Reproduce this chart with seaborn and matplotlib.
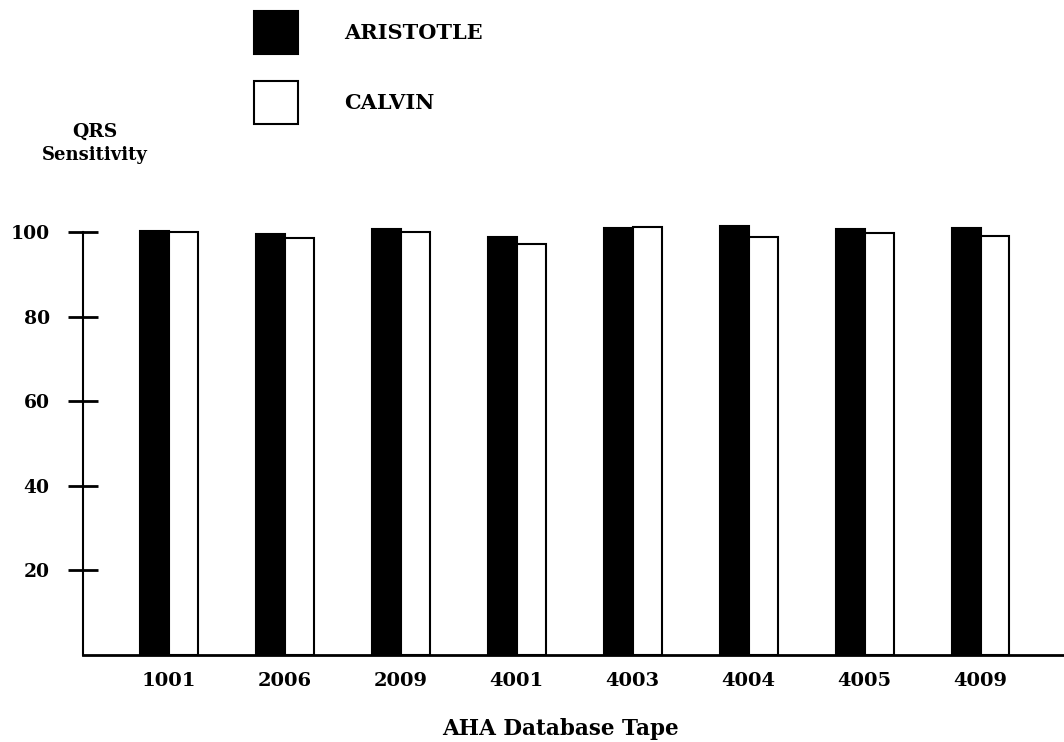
import pandas as pd
import numpy as np
import matplotlib
matplotlib.use("Agg")
import matplotlib.pyplot as plt
import seaborn as sns

# values
tapes = ['1001', '2006', '2009', '4001', '4003', '4004', '4005', '4009']
aristotle = [100.3, 99.5, 100.6, 98.9, 100.9, 101.4, 100.6, 100.9]
calvin = [100.1, 98.7, 99.9, 97.1, 101.3, 98.9, 99.8, 99.1]
yticks = [20, 40, 60, 80, 100]

df = pd.DataFrame({
    'tape': tapes * 2,
    'sensitivity': aristotle + calvin,
    'system': ['ARISTOTLE'] * len(tapes) + ['CALVIN'] * len(tapes),
})

sns.set_style('white')
plt.rcParams['font.family'] = ['DejaVu Serif']
plt.rcParams['font.weight'] = 'bold'
plt.rcParams['text.color'] = 'black'
plt.rcParams['axes.labelcolor'] = 'black'
plt.rcParams['xtick.color'] = 'black'
plt.rcParams['ytick.color'] = 'black'

fig = plt.figure(figsize=(10.64, 7.42), dpi=100)
ax = fig.add_axes([0.078, 0.1173, 0.922, 0.5871])

sns.barplot(data=df, x='tape', y='sensitivity', hue='system',
            palette={'ARISTOTLE': 'black', 'CALVIN': 'white'},
            edgecolor='black', linewidth=1.5, width=0.5, ax=ax)

ax.set_xlim(-0.74, 7.72)
ax.set_ylim(0, 103)
ax.set_yticks(yticks)
ax.set_yticklabels([str(v) for v in yticks], fontsize=13.5, fontweight='bold')
ax.tick_params(axis='y', left=True, direction='inout', length=21, width=2, pad=13.5)
ax.tick_params(axis='x', bottom=False, length=0, pad=12, labelsize=14)
for lab in ax.get_xticklabels():
    lab.set_fontweight('bold')

for s in ['top', 'right']:
    ax.spines[s].set_visible(False)
ax.spines['left'].set_bounds(0, 100)
ax.spines['left'].set_linewidth(1.5)
ax.spines['bottom'].set_linewidth(2)
ax.spines['left'].set_color('black')
ax.spines['bottom'].set_color('black')

ax.set_xlabel('AHA Database Tape', fontsize=15.5, fontweight='bold')
ax.xaxis.set_label_coords(0.487, -0.145)
ax.set_ylabel('')

fig.text(0.0893, 0.822, 'QRS', fontsize=13.5, fontweight='bold', ha='center', va='center')
fig.text(0.0893, 0.7915, 'Sensitivity', fontsize=13, fontweight='bold', ha='center', va='center')

handles, labels = ax.get_legend_handles_labels()
ax.get_legend().remove()
fig.legend(handles, labels, loc='upper left', bbox_to_anchor=(0.2313, 0.9965),
           frameon=False, prop={'size': 15, 'weight': 'bold'},
           handlelength=2.1, handleheight=2.8,
           labelspacing=1.3, handletextpad=2.2, borderaxespad=0)

fig.savefig('out.png', dpi=100)
